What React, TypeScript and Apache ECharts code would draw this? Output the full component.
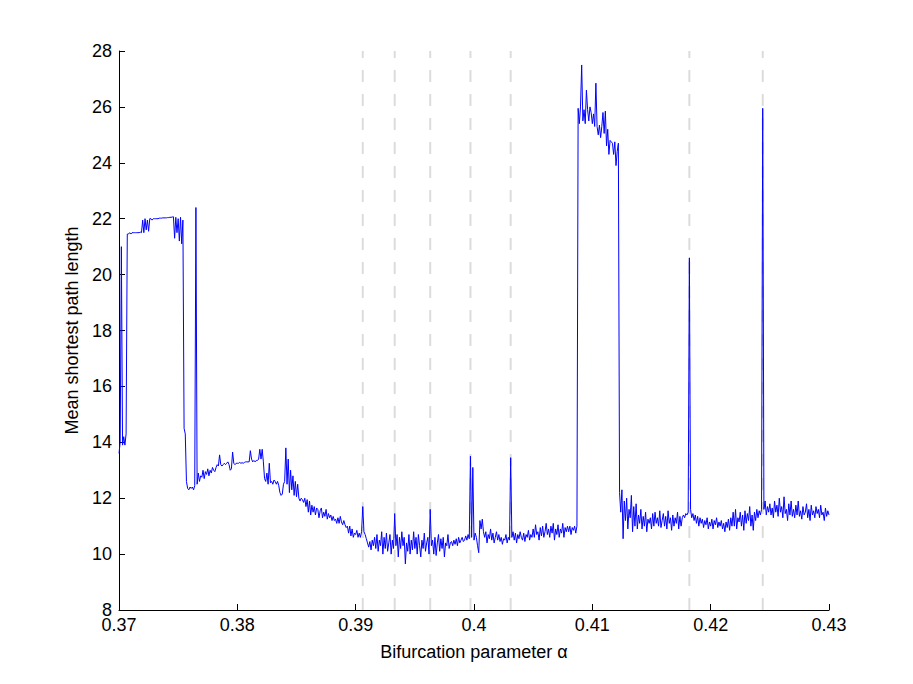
import React, { useEffect, useRef } from "react";
import * as echarts from "echarts";

const xStart = 0.37;
const xStep = 0.0001;

const seg1 = [
  13.6, 14.0, 21.0, 13.9, 14.2, 13.9, 14.3, 21.45, 21.45, 21.5,
  21.45, 21.5, 21.5, 21.5, 21.5, 21.5, 21.5, 21.5, 21.52, 21.5,
  21.95, 21.5, 22.0, 21.6, 21.95, 21.55, 22.0, 22.0, 21.95, 22.0,
  22.0, 22.0, 22.0, 22.0, 22.02, 22.02, 22.02, 22.03, 22.03, 22.03,
  22.03, 22.04, 22.04, 22.05, 22.05, 22.06, 22.07, 21.3, 22.05, 21.5,
  22.0, 21.2, 22.05, 21.1, 21.95, 14.5, 14.3, 12.6, 12.35, 12.3,
  12.4, 12.35, 12.4, 12.3, 12.45, 22.4, 12.5, 12.9, 12.6, 12.8,
  12.75, 13.0, 12.7, 12.95, 12.85, 13.05, 12.8, 13.0, 12.9, 13.1,
  13.0, 12.95, 13.1, 13.2, 13.15, 13.55, 13.2, 13.15, 13.2, 13.25,
  13.2, 13.25, 13.3, 13.2, 13.0, 13.05, 13.65, 13.25, 13.2, 13.25,
];

const seg2 = [
  13.25, 13.25, 13.28, 13.25, 13.27, 13.25, 13.28, 13.3, 13.3, 13.3,
  13.3, 13.7, 13.4, 13.3, 13.35, 13.3, 13.35, 13.35, 13.4, 13.75,
  13.4, 13.75, 13.3, 12.7, 12.6, 12.9, 12.5, 13.25, 12.55, 12.6,
  12.5, 12.65, 12.6, 12.5, 12.6, 12.45, 12.2, 12.1, 12.15, 12.5,
  12.6, 13.8, 12.5, 13.4, 12.2, 13.0, 12.3, 12.8, 12.1, 12.6,
  12.05, 12.5, 12.0, 11.9, 12.0, 11.95, 11.85, 12.0, 11.7, 11.95,
  11.5, 11.9, 11.4, 11.75, 11.5, 11.7, 11.4, 11.65, 11.6, 11.3,
  11.55, 11.65, 11.3, 11.5, 11.35, 11.6, 11.25, 11.45, 11.3, 11.4,
  11.2, 11.35, 11.2, 11.25, 11.1, 11.3, 11.1, 11.35, 11.15, 11.05,
  11.2, 11.05, 10.95, 11.0, 10.75, 11.0, 10.65, 10.9, 10.6, 10.75,
];

const seg3 = [
  10.7, 10.85, 10.6, 10.75, 10.6, 10.8, 11.7, 10.8, 10.7, 10.55,
  10.4, 10.25, 10.45, 10.15, 10.5, 10.3, 10.6, 10.2, 10.7, 10.1,
  10.5, 10.3, 10.8, 10.0, 10.6, 10.2, 10.75, 10.1, 10.4, 10.7,
  10.0, 10.5, 10.2, 11.45, 10.3, 10.7, 9.9, 10.6, 10.2, 10.8,
  10.3, 10.6, 9.65, 10.4, 10.1, 10.7, 10.0, 10.5, 10.15, 10.8,
  10.2, 10.6, 10.0, 10.7, 10.3, 9.9, 10.5, 10.2, 10.75, 10.1,
  10.4, 10.6, 10.0, 11.6, 10.3, 10.5, 10.0, 10.6, 9.95, 10.4,
  10.7, 10.1, 10.55, 10.2, 10.6, 9.9, 10.4, 10.3, 10.7, 10.2,
  10.4, 10.45, 10.3, 10.5, 10.35, 10.55, 10.3, 10.6, 10.4, 10.5,
  10.6, 10.45, 10.5, 10.65, 10.5, 10.7, 10.55, 13.5, 10.6, 13.1,
];

const seg4 = [
  10.5, 10.75, 10.6, 10.3, 10.05, 11.2, 10.9, 11.25, 10.8, 10.6,
  10.8, 10.4, 10.7, 10.55, 10.9, 10.5, 10.75, 10.4, 10.6, 10.8,
  10.5, 10.7, 10.45, 10.6, 10.35, 10.55, 10.5, 10.7, 10.4, 10.6,
  10.5, 13.45, 10.6, 10.8, 10.5, 10.75, 10.4, 10.7, 10.55, 10.8,
  10.6, 10.5, 10.75, 10.45, 10.7, 10.6, 10.85, 10.5, 10.7, 10.6,
  10.9, 10.6, 11.05, 10.7, 10.8, 10.5, 10.95, 10.65, 11.0, 10.6,
  10.8, 11.1, 10.7, 10.9, 10.6, 11.0, 10.75, 11.1, 10.5, 10.9,
  10.7, 11.05, 10.6, 10.9, 10.75, 11.1, 10.6, 10.95, 10.8, 11.0,
  10.8, 11.0, 10.7, 10.95, 10.85, 11.0, 10.75, 11.0, 25.95, 25.4,
  26.0, 27.5, 25.5, 25.9, 25.4, 26.6, 25.9, 25.5, 26.0, 25.8,
];

const seg5 = [
  25.4, 25.75, 25.3, 26.85, 25.3, 25.0, 25.35, 24.9, 25.3, 25.8,
  25.05, 25.85, 24.6, 25.2, 24.3, 24.8, 24.75, 24.7, 24.3, 24.75,
  23.9, 24.4, 24.7, 12.2, 11.5, 12.3, 10.55, 11.9, 11.2, 12.0,
  10.9, 11.6, 11.3, 12.1, 10.8, 11.7, 11.0, 11.8, 10.9, 11.4,
  11.1, 11.6, 10.9, 11.35, 11.0, 11.5, 10.8, 11.25, 11.1, 11.3,
  10.9, 11.45, 11.0, 11.5, 11.1, 11.3, 11.0, 11.55, 10.95, 11.2,
  11.45, 11.0, 11.35, 10.9, 11.55, 11.1, 11.3, 10.85, 11.4, 11.0,
  11.3, 11.1, 11.5, 10.9, 11.35, 11.0, 11.3, 11.4, 11.3, 11.45,
  11.4, 11.5, 20.6, 11.6, 11.3, 11.45, 11.2, 11.4, 11.1, 11.35,
  11.0, 11.3, 11.1, 11.25, 10.95, 11.2, 11.05, 11.3, 10.9, 11.15,
];

const seg6 = [
  11.0, 11.25, 10.9, 11.2, 11.05, 11.3, 10.95, 11.15, 11.0, 11.2,
  10.9, 11.1, 10.8, 11.15, 10.95, 11.25, 10.85, 11.3, 11.0, 11.5,
  11.0, 11.6, 10.9, 11.3, 11.15, 11.5, 11.0, 11.4, 10.85, 11.55,
  11.1, 11.45, 11.2, 11.7, 11.0, 11.4, 10.85, 11.5, 11.2, 11.6,
  11.3, 11.55, 11.4, 11.6, 25.95, 11.6, 11.9, 11.4, 11.7, 11.5,
  11.8, 11.4, 11.65, 11.3, 11.9, 11.5, 11.75, 11.35, 12.0, 11.5,
  11.7, 11.3, 12.05, 11.45, 11.6, 11.2, 11.8, 11.4, 11.9, 11.35,
  11.6, 11.3, 11.75, 11.4, 11.9, 11.35, 11.55, 11.25, 11.7, 11.4,
  11.5, 11.8, 11.3, 11.6, 11.2, 11.75, 11.4, 11.55, 11.3, 11.7,
  11.45, 11.6, 11.3, 11.75, 11.4, 11.5, 11.2, 11.65, 11.35, 11.55,
  11.4,
];

const dashedLines = [0.3906, 0.3933, 0.3963, 0.3997, 0.4031, 0.4182, 0.4244];

const xTicks = { min: 0.37, max: 0.43, interval: 0.01 };
const yTicks = { min: 8, max: 28, interval: 2 };

const FONT = "'Liberation Sans', Arial, Helvetica, sans-serif";

export default function App() {
  const ref = useRef<HTMLDivElement>(null);

  useEffect(() => {
    document.body.style.margin = "0";
    if (!ref.current) return;
    const chart = echarts.init(ref.current, null, { renderer: "svg" });
    const values = [...seg1, ...seg2, ...seg3, ...seg4, ...seg5, ...seg6];
    const data = values.map((v, i) => [+(xStart + i * xStep).toFixed(4), v]);

    const dashSeries = dashedLines.map((x) => ({
      type: "line",
      data: [
        [x, yTicks.min],
        [x, yTicks.max],
      ],
      silent: true,
      z: 1,
      showSymbol: false,
      symbol: "none",
      lineStyle: { color: "#dcdcdc", width: 2, type: [12, 12], dashOffset: 0 },
    }));

    chart.setOption({
      animation: false,
      backgroundColor: "#ffffff",
      textStyle: { fontFamily: FONT },
      grid: { left: 119, right: 84, top: 51, bottom: 74, containLabel: false },
      xAxis: {
        type: "value",
        min: xTicks.min,
        max: xTicks.max,
        interval: xTicks.interval,
        name: "Bifurcation parameter α",
        nameLocation: "middle",
        nameGap: 33,
        nameTextStyle: { fontSize: 18, color: "#000", fontFamily: FONT },
        axisLine: { show: true, onZero: false, lineStyle: { color: "#000", width: 1 } },
        axisTick: { show: true, inside: true, length: 6, lineStyle: { color: "#000" } },
        axisLabel: {
          fontSize: 18,
          color: "#000",
          margin: 6,
          fontFamily: FONT,
          formatter: (v: number) => String(+v.toFixed(2)),
        },
        splitLine: { show: false },
      },
      yAxis: {
        type: "value",
        min: yTicks.min,
        max: yTicks.max,
        interval: yTicks.interval,
        name: "Mean shortest path length",
        nameLocation: "middle",
        nameGap: 38,
        nameTextStyle: { fontSize: 18, color: "#000", fontFamily: FONT },
        axisLine: { show: true, onZero: false, lineStyle: { color: "#000", width: 1 } },
        axisTick: { show: true, inside: true, length: 6, lineStyle: { color: "#000" } },
        axisLabel: { fontSize: 18, color: "#000", margin: 7, fontFamily: FONT },
        splitLine: { show: false },
      },
      series: [
        ...dashSeries,
        {
          type: "line",
          data,
          z: 2,
          showSymbol: false,
          symbol: "none",
          lineStyle: { color: "#0000ff", width: 1 },
        },
      ],
    });
    return () => chart.dispose();
  }, []);

  return <div ref={ref} style={{ width: 913, height: 684 }} />;
}
